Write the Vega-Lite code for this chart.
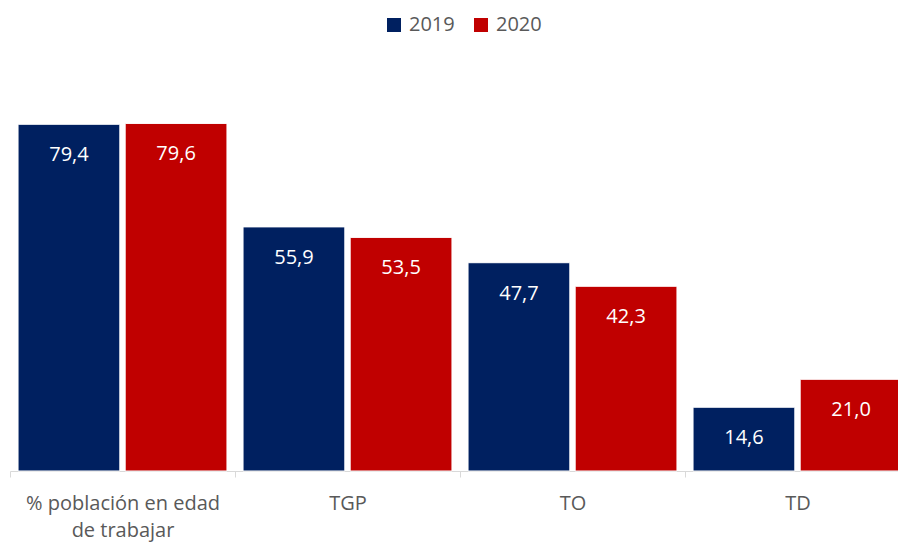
{
  "$schema": "https://vega.github.io/schema/vega-lite/v6.json",
  "width": 900,
  "height": 393,
  "autosize": {"type": "none"},
  "padding": {"left": 10, "top": 78, "right": 0, "bottom": 72},
  "background": "white",
  "config": {
    "view": {"stroke": null},
    "font": "Open Sans",
    "locale": {"number": {"decimal": ",", "thousands": ".", "grouping": [3], "currency": ["", " €"]}}
  },
  "data": {
    "values": [
      {"cat": "% población en edad de trabajar", "year": "2019", "value": 79.4},
      {"cat": "% población en edad de trabajar", "year": "2020", "value": 79.6},
      {"cat": "TGP", "year": "2019", "value": 55.9},
      {"cat": "TGP", "year": "2020", "value": 53.5},
      {"cat": "TO", "year": "2019", "value": 47.7},
      {"cat": "TO", "year": "2020", "value": 42.3},
      {"cat": "TD", "year": "2019", "value": 14.6},
      {"cat": "TD", "year": "2020", "value": 21.0}
    ]
  },
  "encoding": {
    "x": {
      "field": "cat", "type": "nominal", "sort": null, "title": null,
      "scale": {"paddingInner": 0, "paddingOuter": 0},
      "axis": {
        "labelAngle": 0, "tickBand": "extent", "tickSize": 6, "tickColor": "#d9d9d9",
        "domainColor": "#d9d9d9", "labelFontSize": 20, "labelColor": "#595959",
        "labelPadding": 16, "labelLineHeight": 27, "labelFont": "Open Sans", "labelLimit": 0,
        "labelExpr": "datum.value == '% población en edad de trabajar' ? ['% población en edad', 'de trabajar'] : datum.value"
      }
    },
    "xOffset": {"field": "year", "type": "nominal", "scale": {"paddingInner": 0.05, "paddingOuter": 0.075}},
    "y": {"field": "value", "type": "quantitative", "scale": {"domain": [0, 90]}, "axis": null}
  },
  "layer": [
    {
      "mark": {"type": "bar", "stroke": "white", "strokeWidth": 1},
      "encoding": {
        "color": {
          "field": "year", "type": "nominal", "title": null,
          "scale": {"domain": ["2019", "2020"], "range": ["#002060", "#C00000"]},
          "legend": {
            "orient": "none", "direction": "horizontal", "legendX": 374, "legendY": -63,
            "symbolType": "square", "symbolSize": 196, "symbolStrokeWidth": 0,
            "labelFontSize": 20, "labelColor": "#595959", "columnPadding": 16, "labelOffset": 5
          }
        }
      }
    },
    {
      "mark": {"type": "text", "color": "white", "fontSize": 20, "baseline": "middle", "dy": 31},
      "encoding": {"text": {"field": "value", "type": "quantitative", "format": ".1f"}}
    }
  ]
}
